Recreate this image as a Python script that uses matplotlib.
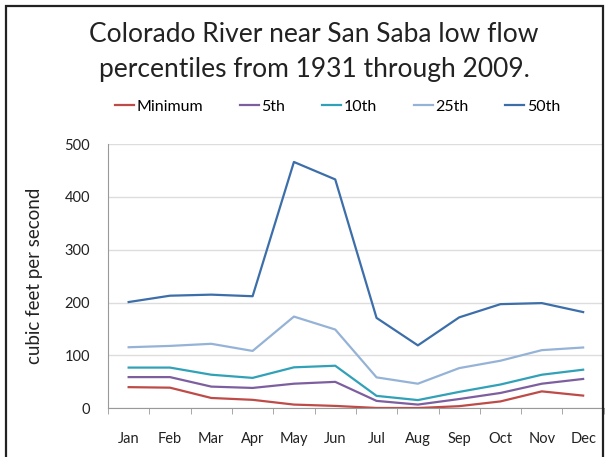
import matplotlib.pyplot as plt
from matplotlib.patches import Rectangle

plt.rcParams['font.family'] = ['Lato', 'DejaVu Sans']

months = ["Jan", "Feb", "Mar", "Apr", "May", "Jun",
          "Jul", "Aug", "Sep", "Oct", "Nov", "Dec"]
minimum = [40, 39, 19.5, 16, 7, 4.5, 0.6, 0.5, 4, 13, 32, 24]
p5 = [59, 59, 41, 38.5, 46.5, 50, 14, 7, 17.5, 29, 46.5, 55.5]
p10 = [77, 77, 63.5, 57.5, 77.5, 80.5, 23.5, 15.5, 31, 45, 63.5, 73]
p25 = [115.5, 118, 122, 108.5, 173.5, 149, 58.5, 46.5, 76, 90, 110, 115]
p50 = [201, 213, 215, 212, 466, 433, 171, 119, 172, 197, 199, 182]

series = [("Minimum", minimum, "#BE4B48"),
          ("5th", p5, "#7D5FA0"),
          ("10th", p10, "#31A1B8"),
          ("25th", p25, "#95B3D7"),
          ("50th", p50, "#3C6EAA")]

fig = plt.figure(figsize=(6.05, 4.57), dpi=100)
ax = fig.add_axes([0.1785, 0.1066, 0.8195, 0.5783])

x = range(len(months))
for name, vals, col in series:
    ax.plot(x, vals, color=col, linewidth=1.6, label=name)

ax.set_xlim(-0.5, 11.5)
ax.set_ylim(0, 500)
ax.set_yticks(range(0, 501, 100))
ax.set_xticks(x)
ax.set_xticklabels(months)
ax.set_xticks([i - 0.5 for i in range(13)], minor=True)
ax.tick_params(axis='x', which='major', length=0, pad=17, labelsize=10.5, colors='#222222')
ax.tick_params(axis='x', which='minor', length=4, color='#999999', direction='out')
ax.tick_params(axis='y', length=0, pad=13, labelsize=10.5, colors='#222222')
ax.grid(axis='y', color='#DDDDDD', linewidth=1)
ax.set_axisbelow(True)
for s in ['top', 'right']:
    ax.spines[s].set_visible(False)
ax.spines['left'].set_color('#999999')
ax.spines['bottom'].set_color('#999999')
ax.set_ylabel("cubic feet per second", fontsize=13.5, labelpad=15, color='#222222')

fig.text(0.519, 0.925, "Colorado River near San Saba low flow", ha='center', va='center',
         fontsize=19, color='#222222')
fig.text(0.519, 0.849, "percentiles from 1931 through 2009.", ha='center', va='center',
         fontsize=19, color='#222222')

fig.legend(loc='center', bbox_to_anchor=(0.558, 0.766), ncol=5, frameon=False,
           fontsize=11.5, handlelength=1.2, handletextpad=0.15, columnspacing=2.3)

fig.patches.append(Rectangle((6 / 605, -0.05), 597 / 605, 1.05 - 6 / 457,
                             transform=fig.transFigure, fill=False,
                             edgecolor='#222222', linewidth=1.6))

fig.savefig("out.png", dpi=100)
